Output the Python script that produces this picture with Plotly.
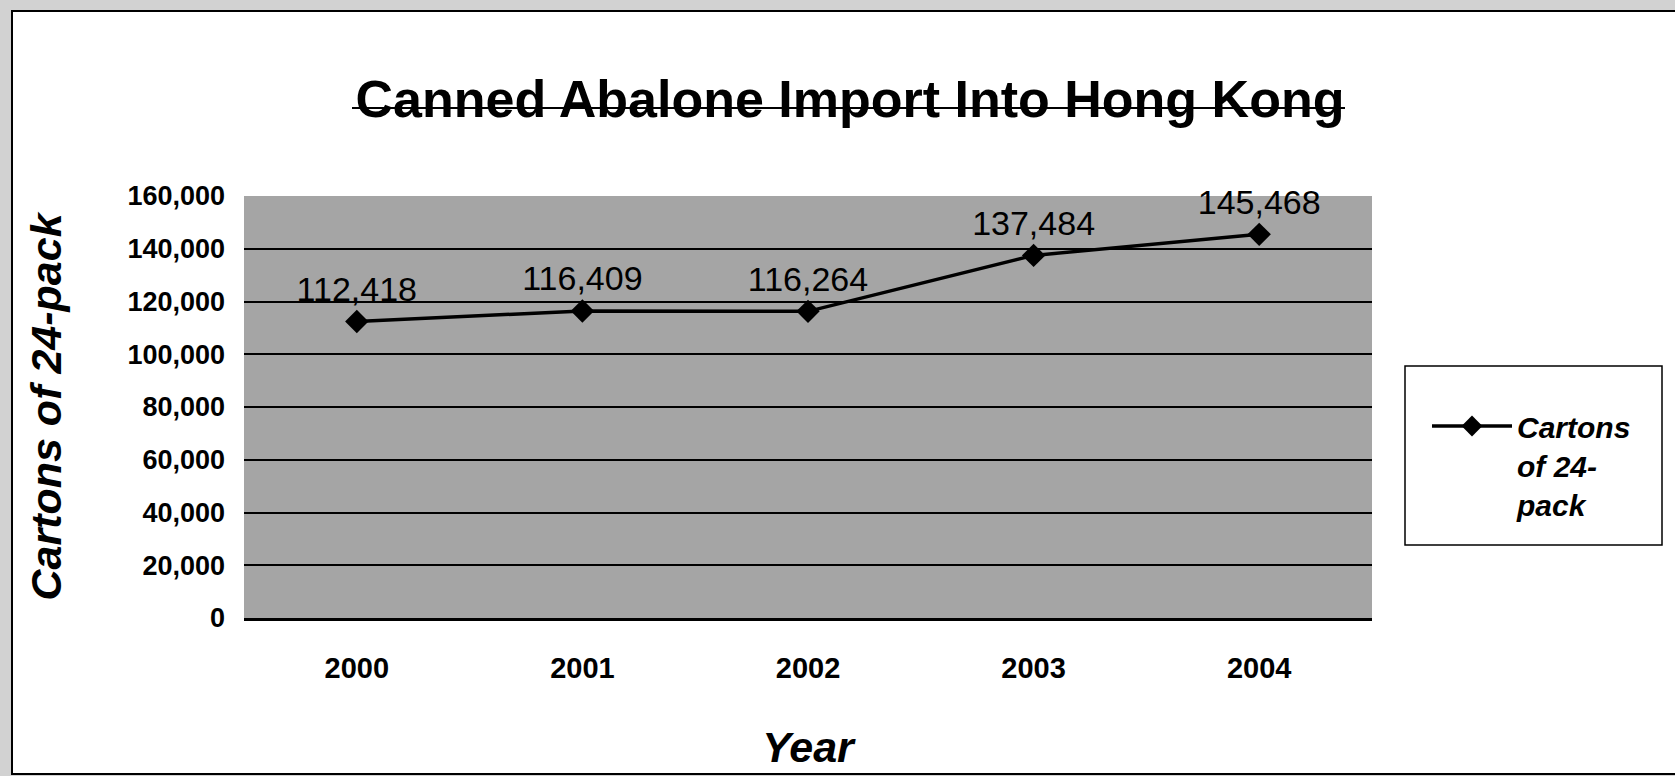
import plotly.graph_objects as go

# Annual canned abalone imports, cartons of 24-pack
years = ["2000", "2001", "2002", "2003", "2004"]
cartons = [112418, 116409, 116264, 137484, 145468]
y_ticks = [0, 20000, 40000, 60000, 80000, 100000, 120000, 140000, 160000]

W, H = 1675, 776
ML, MR, MT, MB = 244, 303, 196, 158
PW, PH = W - ML - MR, H - MT - MB


def px_x(x):
    return (x - ML) / PW


def px_y(y):
    return (H - MB - y) / PH


FONT = "Liberation Sans, Arial, sans-serif"

fig = go.Figure()
fig.add_trace(go.Scatter(
    x=years,
    y=cartons,
    name="<b>Cartons<br>of 24-<br>pack</b>",
    mode="lines+markers+text",
    line=dict(color="black", width=3.5),
    marker=dict(symbol="diamond", size=18, color="black"),
    texttemplate="%{y:,}",
    textposition="top center",
    textfont=dict(family=FONT, size=34, color="black"),
    cliponaxis=False,
))

shapes = [
    # white chart frame on the grey page
    dict(type="rect", xref="paper", yref="paper", layer="below",
         x0=px_x(12), x1=px_x(1690), y0=px_y(774), y1=px_y(11),
         fillcolor="white", line=dict(color="black", width=2)),
    # plot area fill
    dict(type="rect", xref="paper", yref="paper", layer="below",
         x0=0, x1=1, y0=0, y1=1, fillcolor="#a5a5a5", line=dict(width=0)),
    # legend box
    dict(type="rect", xref="paper", yref="paper", layer="below",
         x0=px_x(1405), x1=px_x(1662), y0=px_y(545), y1=px_y(366),
         fillcolor="white", line=dict(color="black", width=1.5)),
    # rule across the title
    dict(type="line", xref="paper", yref="paper",
         x0=px_x(352), x1=px_x(1345), y0=px_y(108), y1=px_y(108),
         line=dict(color="black", width=2)),
]

fig.update_layout(
    width=W, height=H,
    margin=dict(l=ML, r=MR, t=MT, b=MB, pad=0),
    paper_bgcolor="#d2d2d2",
    plot_bgcolor="#a5a5a5",
    font=dict(family=FONT, color="black"),
    title=dict(
        text="<b>Canned Abalone Import Into Hong Kong</b>",
        font=dict(family=FONT, size=52, color="black"),
        x=850 / W, xanchor="center", xref="container",
        y=1 - 99 / H, yanchor="middle", yref="container",
    ),
    xaxis=dict(
        type="category",
        range=[-0.5, 4.5],
        showgrid=False,
        showline=True, linecolor="black", linewidth=3,
        ticks="",
        tickfont=dict(family=FONT, size=29, color="black", weight="bold"),
        ticklabelstandoff=22,
        title=dict(text="<b><i>Year</i></b>", font=dict(family=FONT, size=43, color="black"),
                   standoff=50),
    ),
    yaxis=dict(
        range=[0, 160000],
        tickvals=y_ticks,
        tickformat=",",
        showgrid=True, gridcolor="black", gridwidth=2,
        zeroline=False,
        showline=False,
        ticks="",
        tickfont=dict(family=FONT, size=27, color="black", weight="bold"),
        ticklabelstandoff=18,
        title=dict(text="<b><i>Cartons of 24-pack</i></b>",
                   font=dict(family=FONT, size=43, color="black"),
                   standoff=52),
    ),
    showlegend=True,
    legend=dict(
        x=px_x(1427), y=px_y(400), xanchor="left", yanchor="top",
        bgcolor="rgba(0,0,0,0)", borderwidth=0,
        font=dict(family=FONT, size=30, color="black", style="italic"),
        itemwidth=80, valign="top",
    ),
    shapes=shapes,
)

fig.write_html("out.html")
